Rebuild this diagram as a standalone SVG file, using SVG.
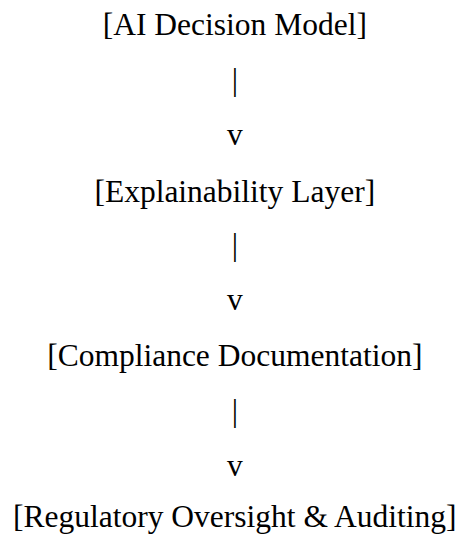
<svg xmlns="http://www.w3.org/2000/svg" width="463" height="538" viewBox="0 0 463 538">
<style>
text { font-family: "Liberation Serif", "Times New Roman", serif; font-size: 31.5px; fill: #000; text-anchor: middle; }
</style>
<rect x="0" y="0" width="463" height="538" fill="#fff"/>
<g id="node-ai-decision-model"><text x="234.8" y="35">[AI Decision Model]</text></g>
<g id="node-explainability-layer"><text x="234.8" y="201.5">[Explainability Layer]</text></g>
<g id="node-compliance-documentation"><text x="234.8" y="366">[Compliance Documentation]</text></g>
<g id="node-regulatory-oversight"><text x="234.8" y="527">[Regulatory Oversight &amp; Auditing]</text></g>
<g id="connectors">
<text x="234.8" y="89.7">|</text>
<text x="234.8" y="145">v</text>
<text x="234.8" y="254.5">|</text>
<text x="234.8" y="310">v</text>
<text x="234.8" y="421">|</text>
<text x="234.8" y="476">v</text>
</g>
</svg>
